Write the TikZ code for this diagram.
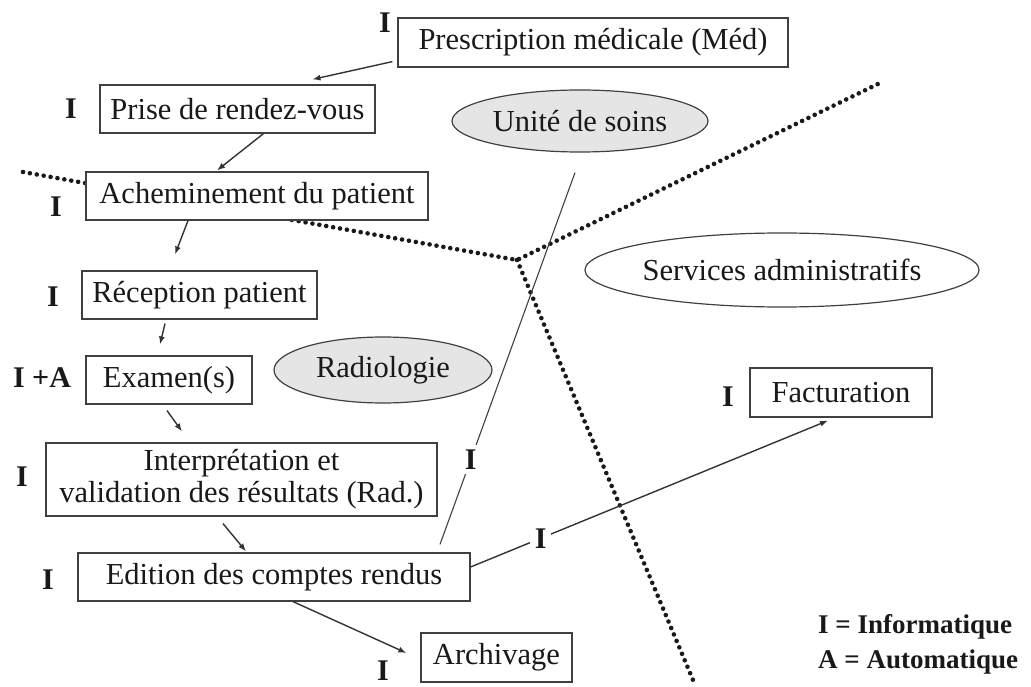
\documentclass[tikz,border=0pt]{standalone}
\usepackage{fontspec}
\setmainfont{Liberation Serif}
\usetikzlibrary{arrows.meta,calc,shapes.geometric}
\begin{document}
\begin{tikzpicture}[x=1pt,y=-1pt,
  stepbox/.style={rectangle, draw=black!75, line width=1.2pt, fill=white,
    inner sep=0pt, text=black!90, font=\fontsize{30.5}{32}\selectfont},
  zone/.style={ellipse, draw=black!75, line width=1.2pt, inner sep=0pt,
    text=black!90, font=\fontsize{30.5}{32}\selectfont},
  tag/.style={inner sep=1pt, text=black!90, font=\bfseries\fontsize{30}{32}\selectfont},
  linetag/.style={tag, fill=white, inner sep=5pt},
  legend/.style={anchor=west, inner sep=0pt, text=black!90,
    font=\bfseries\fontsize{27}{30}\selectfont},
  flow/.style={-{Latex[length=8pt,width=6pt]}, line width=1.4pt, draw=black!80},
  link/.style={line width=1.1pt, draw=black!75},
  frontier/.style={line width=4.6pt, dash pattern=on 0pt off 7pt,
    line cap=round, draw=black!90}]
\useasboundingbox (0,0) rectangle (1031,687);

% frontiers between the three departments
\coordinate (fwest) at (23,172);
\coordinate (fjoin) at (517,260);
\coordinate (fnorth) at (882,82);
\coordinate (fsouth) at (693,680);
\draw[frontier] (fwest) -- (fjoin) -- (fnorth);
\draw[frontier] (fjoin) -- (fsouth);

% departments
\node[zone, fill=black!10, minimum width=256, minimum height=62] (unite) at (580,121) {Unité de soins};
\node[zone, fill=black!10, minimum width=218, minimum height=66] (radio) at (383,370) {Radiologie};
\node[zone, fill=white, minimum width=345, minimum height=74] (serv) at (782,270) {Services administratifs};

% process steps
\node[stepbox, minimum width=390, minimum height=49] (presc) at (593,42.5) {Prescription médicale (Méd)};
\node[stepbox, minimum width=275, minimum height=48] (prise) at (237.5,109) {Prise de rendez-vous};
\node[stepbox, minimum width=342, minimum height=48] (achem) at (257,196) {Acheminement du patient};
\node[stepbox, minimum width=235, minimum height=48] (recep) at (199.5,295) {Réception patient};
\node[stepbox, minimum width=166, minimum height=48] (exam) at (169,380) {Examen(s)};
\node[stepbox, minimum width=391, minimum height=73, align=center] (interp) at (241.5,479.5)
  {Interprétation et\\validation des résultats (Rad.)};
\node[stepbox, minimum width=392, minimum height=48] (edit) at (274,577) {Edition des comptes rendus};
\node[stepbox, minimum width=151, minimum height=49] (archiv) at (496.5,657.5) {Archivage};
\node[stepbox, minimum width=182, minimum height=49] (factu) at (841,392.5) {Facturation};

% kind of support for each step
\node[tag] (tpresc) at (385,23) {I};
\node[tag] (tprise) at (71,109) {I};
\node[tag] (tachem) at (56,207) {I};
\node[tag] (trecep) at (53,297) {I};
\node[tag] (texam) at (42,378) {I +A};
\node[tag] (tinterp) at (22,477) {I};
\node[tag] (tedit) at (48,580) {I};
\node[tag] (tarchiv) at (383,671) {I};
\node[tag] (tfactu) at (728,397) {I};

% workflow
\draw[flow] ($(presc.south west)+(-5,-6)$) -- ($(prise.north)+(75,-5)$);
\draw[flow] ($(prise.south)+(26,0)$) -- ($(achem.north)+(-40,-1)$);
\draw[flow] ($(achem.south)+(-69,0)$) -- ($(recep.north)+(-24.5,-16)$);
\draw[flow] ($(recep.south)+(-34.5,4)$) -- ($(exam.north)+(-9,-11)$);
\draw[flow] ($(exam.south)+(-2,6)$) -- ($(interp.north)+(-59.5,-11)$);
\draw[flow] ($(interp.south)+(-18.5,7)$) -- ($(edit.north)+(-28,-1)$);
\draw[flow] ($(edit.south)+(19,0)$) -- ($(archiv.west)+(-14,-4.5)$);
\draw[flow] ($(edit.east)+(0,-10)$) -- node[linetag, pos=0.196] (tbill) {I} ($(factu.south)+(-13,3)$);
\draw[link] ($(edit.north)+(166,-8)$) -- node[linetag, pos=0.228] (tward) {I} ($(unite.south)+(-5,20)$);

% legend
\node[legend] (leg1) at (818,627) {I = Informatique};
\node[legend] (leg2) at (818,662) {A = Automatique};
\end{tikzpicture}
\end{document}
